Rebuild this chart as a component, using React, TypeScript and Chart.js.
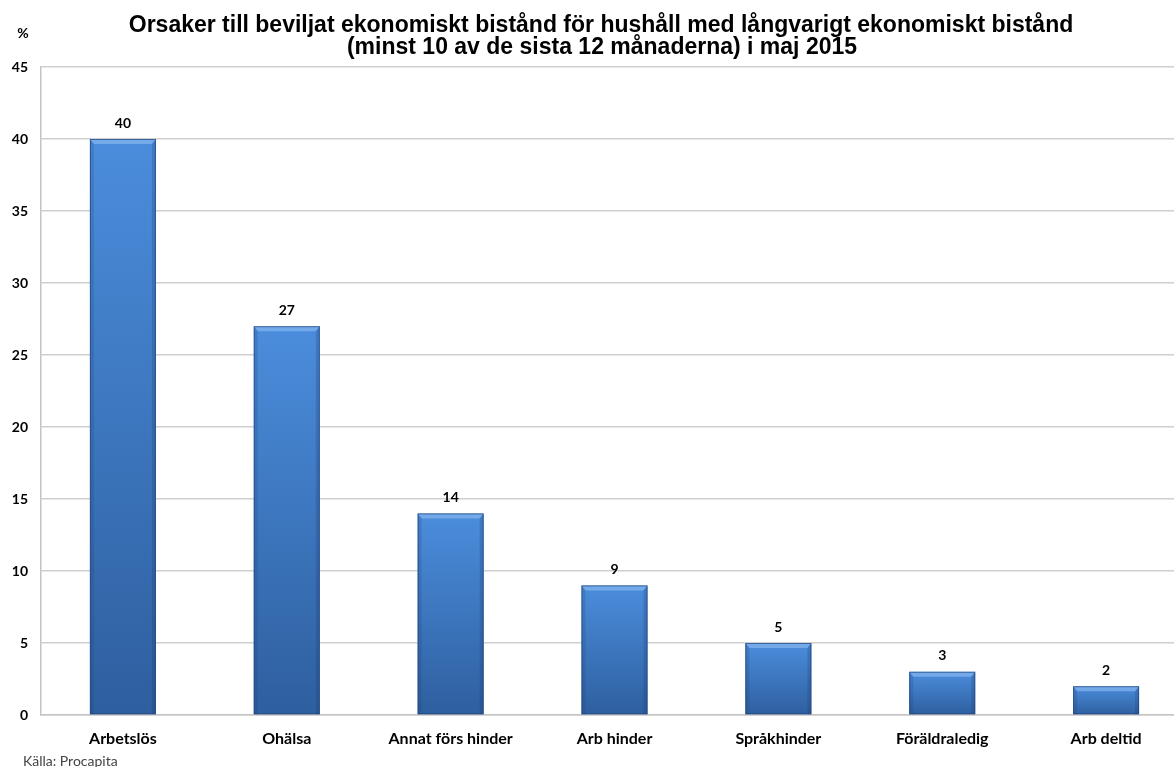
import { useEffect, useRef } from "react";
import { Chart, registerables } from "chart.js";

Chart.register(...registerables);

const categories = [
  "Arbetslös",
  "Ohälsa",
  "Annat förs hinder",
  "Arb hinder",
  "Språkhinder",
  "Föräldraledig",
  "Arb deltid",
];
const values = [40, 27, 14, 9, 5, 3, 2];
const titleLines = [
  "Orsaker till beviljat ekonomiskt bistånd för hushåll med långvarigt ekonomiskt bistånd",
  "(minst 10 av de sista 12 månaderna) i maj 2015",
];
const yUnit = "%";
const sourceText = "Källa: Procapita";
const yMin = 0;
const yMax = 45;
const yStep = 5;

const LABEL_FONT = "Lato, 'Open Sans', sans-serif";
const TITLE_FONT = "'Liberation Sans', Arial, sans-serif";

const extrasPlugin = {
  id: "extras",
  afterDatasetsDraw(chart: any) {
    const ctx = chart.ctx as CanvasRenderingContext2D;
    const meta = chart.getDatasetMeta(0);
    meta.data.forEach((el: any, i: number) => {
      const x = el.x;
      const top = el.y;
      const base = el.base;
      const w = el.width;
      const l = x - w / 2;
      const r = x + w / 2;
      const b = 4;
      ctx.save();
      ctx.beginPath();
      ctx.moveTo(l, top);
      ctx.lineTo(r, top);
      ctx.lineTo(r - b, top + b + 1);
      ctx.lineTo(l + b, top + b + 1);
      ctx.closePath();
      ctx.fillStyle = "rgba(150,195,245,0.55)";
      ctx.fill();
      ctx.beginPath();
      ctx.moveTo(l, top);
      ctx.lineTo(l + b, top + b + 1);
      ctx.lineTo(l + b, base);
      ctx.lineTo(l, base);
      ctx.closePath();
      ctx.fillStyle = "rgba(25,55,105,0.18)";
      ctx.fill();
      ctx.beginPath();
      ctx.moveTo(r, top);
      ctx.lineTo(r - b, top + b + 1);
      ctx.lineTo(r - b, base);
      ctx.lineTo(r, base);
      ctx.closePath();
      ctx.fillStyle = "rgba(25,55,105,0.22)";
      ctx.fill();
      ctx.strokeStyle = "rgba(35,70,125,0.7)";
      ctx.lineWidth = 1;
      ctx.strokeRect(l + 0.5, top + 0.5, w - 1, base - top - 1);
      ctx.fillStyle = "#000";
      ctx.font = `bold 14px ${LABEL_FONT}`;
      ctx.textAlign = "center";
      ctx.textBaseline = "middle";
      ctx.fillText(String(values[i]), x, top - 16);
      ctx.restore();
    });
  },
  afterDraw(chart: any) {
    const ctx = chart.ctx as CanvasRenderingContext2D;
    ctx.save();
    ctx.fillStyle = "#000";
    ctx.font = `bold 23px ${TITLE_FONT}`;
    ctx.textAlign = "center";
    ctx.textBaseline = "alphabetic";
    ctx.fillText(titleLines[0], 601, 32);
    ctx.fillText(titleLines[1], 602, 54);
    ctx.font = `bold 14px ${LABEL_FONT}`;
    ctx.textBaseline = "middle";
    ctx.fillText(yUnit, 23, 33);
    ctx.font = `14px ${LABEL_FONT}`;
    ctx.fillStyle = "#444";
    ctx.textAlign = "left";
    ctx.fillText(sourceText, 23, 761);
    ctx.restore();
  },
};

export default function App() {
  const canvasRef = useRef<HTMLCanvasElement | null>(null);

  useEffect(() => {
    document.body.style.overflow = "hidden";
    const canvas = canvasRef.current;
    if (!canvas) return;
    const chart = new Chart(canvas, {
      type: "bar",
      data: {
        labels: categories,
        datasets: [
          {
            data: values,
            backgroundColor: (c: any) => {
              const ch = c.chart;
              const ys = ch.scales && ch.scales.y;
              if (!ys || !ch.chartArea || c.type !== "data") return "#3a72bf";
              const t = ys.getPixelForValue(c.raw);
              const bt = ys.getPixelForValue(0);
              if (!isFinite(t) || !isFinite(bt) || bt - t < 1) return "#3a72bf";
              const g = ch.ctx.createLinearGradient(0, t, 0, bt);
              g.addColorStop(0, "#4b8ddc");
              g.addColorStop(1, "#2e5f9f");
              return g;
            },
            borderWidth: 0,
            barPercentage: 0.403,
            categoryPercentage: 1,
          },
        ],
      },
      options: {
        animation: false,
        responsive: true,
        maintainAspectRatio: false,
        layout: { padding: { top: 67, right: 2, left: 0, bottom: 0 } },
        plugins: {
          legend: { display: false },
          title: { display: false },
          tooltip: { enabled: false },
        },
        scales: {
          x: {
            grid: { display: false },
            border: { display: true, color: "#c4c4c4", width: 1.5 },
            ticks: {
              color: "#000",
              font: { family: LABEL_FONT, size: 16, weight: "bold" },
              padding: 6,
              maxRotation: 0,
              autoSkip: false,
            },
            afterFit: (s: any) => {
              s.height = 52;
            },
          },
          y: {
            min: yMin,
            max: yMax,
            ticks: {
              stepSize: yStep,
              color: "#000",
              font: { family: LABEL_FONT, size: 14, weight: "bold" },
              padding: 13,
            },
            grid: { color: "#cfcfcf", lineWidth: 1.5, drawTicks: false },
            border: { display: true, color: "#c4c4c4", width: 1.5 },
            afterFit: (s: any) => {
              s.width = 41;
            },
          },
        },
      },
      plugins: [extrasPlugin],
    });
    return () => chart.destroy();
  }, []);

  return (
    <div
      style={{
        position: "fixed",
        left: 0,
        top: 0,
        width: 1190,
        height: 767,
        background: "#fff",
      }}
    >
      <canvas ref={canvasRef} />
    </div>
  );
}
